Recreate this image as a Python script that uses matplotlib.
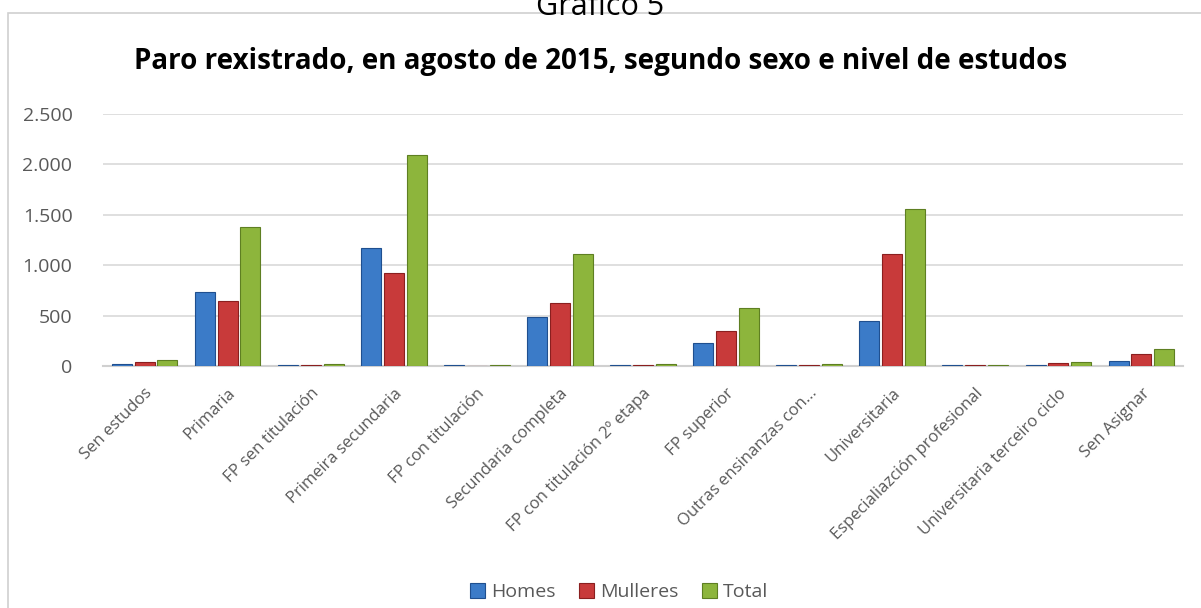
import matplotlib
matplotlib.use("Agg")
import matplotlib.pyplot as plt
import numpy as np
from matplotlib.patches import Rectangle, Patch

categories = ["Sen estudos", "Primaria", "FP sen titulación", "Primeira secundaria",
              "FP con titulación", "Secundaria completa", "FP con titulación 2º etapa",
              "FP superior", "Outras ensinanzas con...", "Universitaria",
              "Especialiazción profesional", "Universitaria terceiro ciclo", "Sen Asignar"]
homes    = [22, 735, 8, 1173, 7, 487, 7, 229, 7, 443, 6, 12, 50]
mulleres = [40, 643, 7, 918, 0, 626, 8, 345, 8, 1110, 8, 30, 120]
total    = [62, 1378, 15, 2091, 7, 1113, 15, 574, 15, 1553, 14, 42, 170]
series_names = ["Homes", "Mulleres", "Total"]
yticks = [0, 500, 1000, 1500, 2000, 2500]
ytick_labels = ["0", "500", "1.000", "1.500", "2.000", "2.500"]
title = "Paro rexistrado, en agosto de 2015, segundo sexo e nivel de estudos"
top_text = "Gráfico 5"

plt.rcParams['font.family'] = ['Open Sans', 'DejaVu Sans']

W, H = 1201, 608
fig = plt.figure(figsize=(W / 100, H / 100), dpi=100)
fig.patch.set_facecolor("white")

# chart border
fig.add_artist(Rectangle((8 / W, -0.01), 1.2, 1 - 13 / H + 0.01, transform=fig.transFigure,
                         fill=False, edgecolor="#d0d0d0", linewidth=1.2))

fig.text(0.5, 1 - 15 / H, top_text, ha="center", va="baseline", fontsize=22, color="#000000")
fig.text(0.5, 1 - 62 / H, title, ha="center", va="center", fontsize=20,
         fontweight="bold", color="#000000")

ax = fig.add_axes([103 / W, 1 - 366 / H, (1183 - 103) / W, (366 - 114) / H])
x = np.arange(len(categories))
bw = 0.24
gap = 0.035
colors = ["#3b7bc8", "#c83a3a", "#8db53c"]
edges = ["#1f4f8f", "#8a1f1f", "#5e7f22"]
for i, (vals, c, ec) in enumerate(zip([homes, mulleres, total], colors, edges)):
    ax.bar(x + (i - 1) * (bw + gap), vals, width=bw, color=c, edgecolor=ec,
           linewidth=0.8, zorder=3, label=series_names[i])

ax.set_xlim(-0.5, len(categories) - 0.5)
ax.set_ylim(0, 2500)
ax.set_yticks(yticks)
ax.set_yticklabels(ytick_labels)
ax.yaxis.grid(True, color="#d9d9d9", linewidth=1.2, zorder=0)
ax.set_axisbelow(True)
for s in ["top", "right", "left"]:
    ax.spines[s].set_visible(False)
ax.spines["bottom"].set_color("#d0d0d0")
ax.spines["bottom"].set_linewidth(1.5)
ax.tick_params(axis="y", length=0, pad=22, labelsize=14, labelcolor="#595959")
ax.tick_params(axis="x", length=0, pad=14, labelsize=12, labelcolor="#595959")
ax.set_xticks(x)
ax.set_xticklabels(categories, rotation=45, ha="right", va="top", rotation_mode="anchor")

handles = [Patch(facecolor=c, edgecolor=ec, linewidth=0.8) for c, ec in zip(colors, edges)]
fig.legend(handles, series_names, loc="center", bbox_to_anchor=(619 / W, 1 - 592 / H),
           ncol=3, frameon=False, fontsize=14, handlelength=0.8, handleheight=0.8,
           handletextpad=0.3, columnspacing=1.2, labelcolor="#595959")

fig.savefig("out.png", dpi=100)
